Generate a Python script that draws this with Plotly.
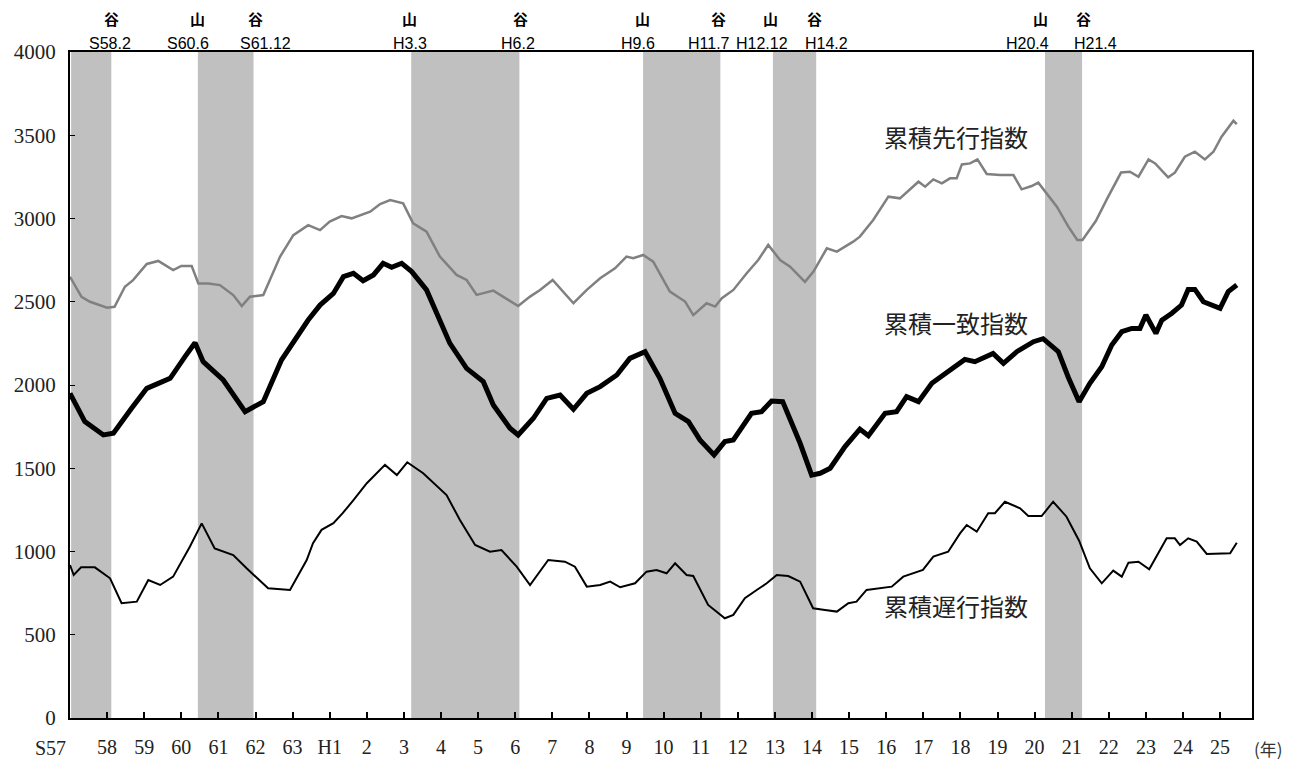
import plotly.graph_objects as go

# -----------------------------
# Data
# -----------------------------
lead_t = [1982.00, 1982.31, 1982.54, 1983.00, 1983.20, 1983.48, 1983.70, 1984.07, 1984.38, 1984.78,
          1985.00, 1985.28, 1985.46, 1985.73, 1986.04, 1986.40, 1986.63, 1986.85, 1987.21, 1987.66,
          1988.02, 1988.42, 1988.74, 1989.00, 1989.32, 1989.59, 1990.09, 1990.36, 1990.63, 1990.98,
          1991.25, 1991.61, 1991.97, 1992.42, 1992.69, 1992.96, 1993.41, 1993.68, 1994.08, 1994.40,
          1994.67, 1995.01, 1995.30, 1995.57, 1995.93, 1996.29, 1996.69, 1997.00, 1997.18, 1997.45,
          1997.72, 1998.17, 1998.58, 1998.80, 1999.16, 1999.39, 1999.57, 1999.88, 2000.24, 2000.55,
          2000.82, 2001.14, 2001.41, 2001.81, 2002.04, 2002.40, 2002.67, 2003.11, 2003.29, 2003.65,
          2004.06, 2004.37, 2004.87, 2005.05, 2005.27, 2005.50, 2005.72, 2005.90, 2006.04, 2006.26,
          2006.46, 2006.71, 2007.07, 2007.43, 2007.65, 2007.92, 2008.10, 2008.28, 2008.60, 2008.91,
          2009.15, 2009.29, 2009.65, 2009.97, 2010.33, 2010.57, 2010.80, 2011.07, 2011.25, 2011.60,
          2011.78, 2012.05, 2012.32, 2012.59, 2012.82, 2013.04, 2013.36, 2013.45]
lead_v = [2650, 2530, 2500, 2464, 2470, 2590, 2630, 2727, 2745, 2690,
          2715, 2715, 2610, 2610, 2600, 2540, 2474, 2530, 2540, 2770,
          2900, 2960, 2930, 2981, 3015, 3001, 3041, 3087, 3111, 3091,
          2971, 2921, 2771, 2661, 2631, 2541, 2567, 2531, 2474, 2531,
          2571, 2631, 2561, 2491, 2571, 2641, 2701, 2771, 2761, 2781,
          2741, 2561, 2501, 2420, 2491, 2471, 2521, 2571, 2671, 2751,
          2841, 2751, 2711, 2620, 2681, 2821, 2801, 2861, 2891, 2991,
          3131, 3121, 3221, 3191, 3235, 3211, 3241, 3241, 3325, 3331,
          3355, 3267, 3261, 3261, 3175, 3195, 3215, 3161, 3071, 2951,
          2871, 2871, 2985, 3125, 3276, 3281, 3251, 3355, 3331, 3247,
          3275, 3371, 3401, 3355, 3401, 3491, 3587, 3567]

coin_t = [1982.00, 1982.40, 1982.90, 1983.17, 1983.66, 1984.07, 1984.43, 1984.70, 1985.10, 1985.37,
          1985.59, 1986.13, 1986.72, 1987.21, 1987.70, 1988.02, 1988.42, 1988.74, 1989.10, 1989.37,
          1989.64, 1989.90, 1990.18, 1990.44, 1990.67, 1990.94, 1991.21, 1991.61, 1991.88, 1992.24,
          1992.69, 1993.14, 1993.41, 1993.86, 1994.08, 1994.49, 1994.85, 1995.21, 1995.57, 1995.93,
          1996.29, 1996.74, 1997.09, 1997.50, 1997.90, 1998.31, 1998.67, 1998.98, 1999.36, 1999.65,
          1999.88, 2000.37, 2000.64, 2000.91, 2001.21, 2001.68, 2001.99, 2002.22, 2002.49, 2002.89,
          2003.29, 2003.52, 2003.97, 2004.28, 2004.55, 2004.87, 2005.23, 2005.67, 2006.12, 2006.39,
          2006.88, 2007.16, 2007.52, 2007.97, 2008.23, 2008.64, 2008.91, 2009.20, 2009.49, 2009.81,
          2010.08, 2010.35, 2010.62, 2010.84, 2011.00, 2011.27, 2011.43, 2011.70, 2011.96, 2012.14,
          2012.32, 2012.55, 2013.00, 2013.22, 2013.45]
coin_v = [1950, 1780, 1700, 1710, 1860, 1980, 2014, 2040, 2170, 2254,
          2140, 2030, 1840, 1900, 2150, 2260, 2390, 2480, 2550, 2651,
          2671, 2626, 2661, 2731, 2707, 2731, 2681, 2571, 2431, 2250,
          2100, 2020, 1880, 1740, 1700, 1800, 1920, 1940, 1854, 1950,
          1990, 2060, 2160, 2200, 2040, 1830, 1780, 1670, 1580, 1660,
          1670, 1830, 1840, 1904, 1900, 1650, 1459, 1470, 1500, 1630,
          1735, 1695, 1830, 1840, 1930, 1900, 2010, 2080, 2154, 2140,
          2190, 2130, 2200, 2260, 2278, 2200, 2045, 1900, 2010, 2110,
          2240, 2320, 2340, 2340, 2420, 2310, 2390, 2431, 2480, 2574,
          2574, 2500, 2460, 2561, 2601]

lag_t = [1982.00, 1982.10, 1982.30, 1982.67, 1983.08, 1983.39, 1983.80, 1984.11, 1984.43, 1984.78,
         1985.23, 1985.55, 1985.90, 1986.40, 1986.76, 1987.34, 1987.93, 1988.38, 1988.55, 1988.78,
         1989.10, 1989.35, 1989.64, 1990.00, 1990.49, 1990.81, 1991.09, 1991.52, 1992.15, 1992.51,
         1992.92, 1993.32, 1993.63, 1994.04, 1994.40, 1994.89, 1995.34, 1995.61, 1995.93, 1996.29,
         1996.56, 1996.83, 1997.23, 1997.54, 1997.81, 1998.08, 1998.31, 1998.62, 1998.80, 1999.20,
         1999.43, 1999.65, 1999.88, 2000.19, 2000.51, 2000.78, 2001.05, 2001.36, 2001.68, 2002.03,
         2002.35, 2002.67, 2002.98, 2003.20, 2003.47, 2004.15, 2004.46, 2004.99, 2005.27, 2005.67,
         2005.99, 2006.17, 2006.44, 2006.75, 2006.93, 2007.20, 2007.61, 2007.83, 2008.19, 2008.50,
         2008.86, 2009.20, 2009.49, 2009.81, 2010.12, 2010.35, 2010.53, 2010.80, 2011.09, 2011.33,
         2011.56, 2011.78, 2011.92, 2012.14, 2012.37, 2012.64, 2012.86, 2013.27, 2013.45]
lag_v = [919, 859, 905, 905, 839, 689, 699, 829, 799, 849,
         1029, 1169, 1019, 979, 899, 779, 769, 949, 1050, 1130,
         1170, 1230, 1309, 1410, 1520, 1459, 1536, 1470, 1339, 1189,
         1039, 999, 1009, 909, 799, 949, 939, 909, 789, 799,
         819, 785, 809, 879, 889, 869, 929, 859, 853, 679,
         638, 599, 619, 719, 769, 809, 859, 853, 819, 659,
         649, 639, 689, 699, 769, 789, 849, 889, 969, 999,
         1109, 1159, 1119, 1230, 1230, 1299, 1259, 1213, 1213, 1299,
         1209, 1065, 899, 809, 885, 849, 933, 939, 893, 989,
         1079, 1079, 1039, 1079, 1059, 985, 985, 989, 1053]

# shaded periods (peak -> trough), as (year, month)
shade_start = [(1982, 1), (1985, 6), (1991, 3), (1997, 6), (2000, 12), (2008, 4)]
shade_end = [(1983, 2), (1986, 12), (1994, 2), (1999, 7), (2002, 2), (2009, 4)]

# turning point labels on top
turn_kind = ["谷", "山", "谷", "山", "谷", "山", "谷", "山", "谷", "山", "谷"]
turn_date = ["S58.2", "S60.6", "S61.12", "H3.3", "H6.2", "H9.6", "H11.7", "H12.12", "H14.2", "H20.4", "H21.4"]

years = list(range(1982, 2014))
year_text = ["", "58", "59", "60", "61", "62", "63", "H1"] + [str(i) for i in range(2, 26)]
first_year_text = "S57"


def ym(y, m):
    return y + (m - 1) / 12.0


# -----------------------------
# Build chart
# -----------------------------
fig = go.Figure()

fig.add_trace(go.Scatter(x=lead_t, y=lead_v, mode="lines", name="累積先行指数",
                         line=dict(color="#808080", width=2.5)))
fig.add_trace(go.Scatter(x=coin_t, y=coin_v, mode="lines", name="累積一致指数",
                         line=dict(color="black", width=5)))
fig.add_trace(go.Scatter(x=lag_t, y=lag_v, mode="lines", name="累積遅行指数",
                         line=dict(color="black", width=2)))

for (y0, m0), (y1, m1) in zip(shade_start, shade_end):
    fig.add_shape(type="rect", xref="x", yref="paper",
                  x0=ym(y0, m0) + 0.03, x1=ym(y1, m1) + 0.03, y0=0, y1=1,
                  fillcolor="#c0c0c0", line_width=0, layer="below")

# top labels: 山/谷 and dates
kind_x = [1983.13, 1985.45, 1986.99, 1991.16, 1994.13, 1997.44, 1999.49, 2000.89, 2002.08, 2008.15, 2009.33]
date_x = [1983.08, 1985.18, 1987.28, 1991.16, 1994.08, 1997.31, 1999.22, 2000.65, 2002.38, 2007.82, 2009.63]
for k, d, kx, dx in zip(turn_kind, turn_date, kind_x, date_x):
    fig.add_annotation(x=kx, y=1.0, xref="x", yref="paper", yanchor="middle", yshift=34,
                       text=f"<b>{k}</b>", showarrow=False,
                       font=dict(family="Noto Sans CJK JP", size=15, color="black"))
    fig.add_annotation(x=dx, y=1.0, xref="x", yref="paper", yanchor="middle", yshift=9,
                       text=d, showarrow=False,
                       font=dict(family="Liberation Sans Narrow, Arial Narrow, Liberation Sans",
                                 size=16, color="black"))

# series labels
for txt, yv in [("累積先行指数", 3495), ("累積一致指数", 2378), ("累積遅行指数", 673)]:
    fig.add_annotation(x=2005.88, y=yv, text=txt, showarrow=False,
                       font=dict(family="Noto Sans CJK JP", size=24, color="#222222"))

# first year label sits left of the axis corner
fig.add_annotation(x=0, y=0, xref="paper", yref="paper", xshift=-20, yshift=-30,
                   xanchor="center", yanchor="middle", text=first_year_text, showarrow=False,
                   font=dict(family="Liberation Serif, DejaVu Serif", size=20, color="#222222"))

fig.add_annotation(x=1.0, y=0, xref="paper", yref="paper", xshift=16, yshift=-30,
                   xanchor="center", yanchor="middle", text="(年)", showarrow=False,
                   font=dict(family="Noto Sans CJK JP", size=17, color="#333333"))

# page body adds an 8px offset, so the figure is a bit smaller than the window
fig.update_layout(
    width=1286, height=752,
    margin=dict(l=62, r=42, t=44, b=42),
    plot_bgcolor="white", paper_bgcolor="white",
    showlegend=False,
    font=dict(family="Liberation Serif, DejaVu Serif", size=20, color="#222222"),
)

fig.update_xaxes(range=[1982, 2013.86], tickvals=years, ticktext=year_text, automargin=False,
                 showgrid=False, zeroline=False, showline=True, linecolor="black", linewidth=2,
                 mirror=True, ticks="inside", ticklen=6, tickwidth=2, tickcolor="black",
                 tickangle=0, ticklabelstandoff=10)
fig.update_yaxes(range=[0, 4000], dtick=500, tick0=0, automargin=False,
                 showgrid=False, zeroline=False, showline=True, linecolor="black", linewidth=2,
                 mirror=True, ticks="inside", ticklen=5, tickwidth=1, tickcolor="black",
                 ticklabelstandoff=8, tickfont=dict(size=21))

fig.write_html("out.html")
